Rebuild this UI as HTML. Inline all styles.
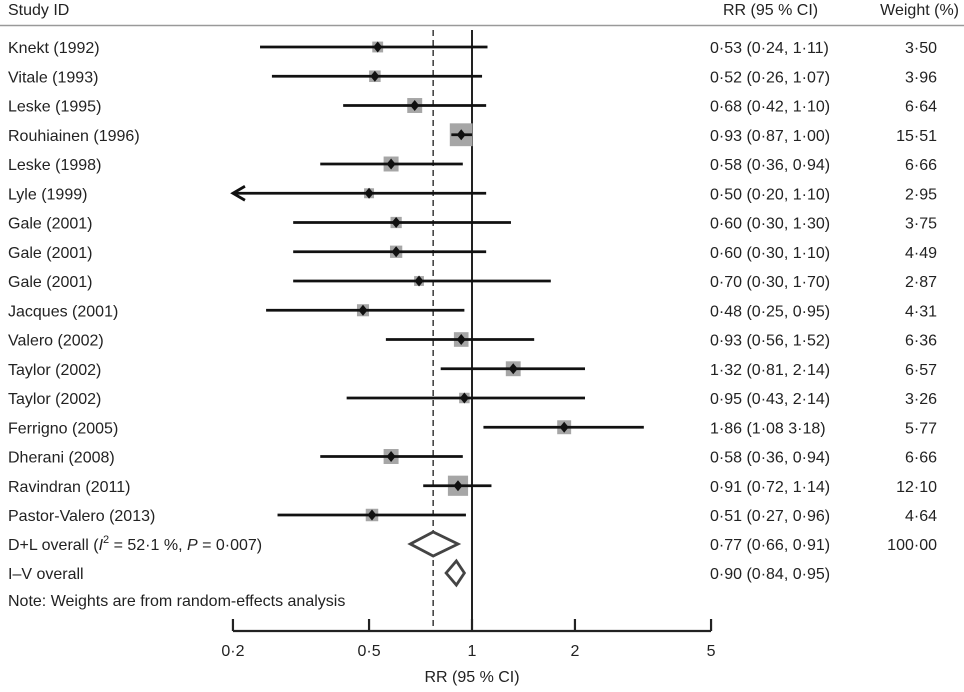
<!DOCTYPE html>
<html><head><meta charset="utf-8"><style>
body{margin:0;background:#fff;}
svg text{font-family:"Liberation Sans",sans-serif;font-size:16px;fill:#222;}
</style></head><body>
<svg id="plot" width="964" height="687" xmlns="http://www.w3.org/2000/svg">
<g id="g"></g>
</svg>
<script>
const studies=["Knekt (1992)","Vitale (1993)","Leske (1995)","Rouhiainen (1996)","Leske (1998)","Lyle (1999)","Gale (2001)","Gale (2001)","Gale (2001)","Jacques (2001)","Valero (2002)","Taylor (2002)","Taylor (2002)","Ferrigno (2005)","Dherani (2008)","Ravindran (2011)","Pastor-Valero (2013)"];
const rr=[0.53,0.52,0.68,0.93,0.58,0.50,0.60,0.60,0.70,0.48,0.93,1.32,0.95,1.86,0.58,0.91,0.51];
const lo=[0.24,0.26,0.42,0.87,0.36,0.20,0.30,0.30,0.30,0.25,0.56,0.81,0.43,1.08,0.36,0.72,0.27];
const hi=[1.11,1.07,1.10,1.00,0.94,1.10,1.30,1.10,1.70,0.95,1.52,2.14,2.14,3.18,0.94,1.14,0.96];
const weights=[3.50,3.96,6.64,15.51,6.66,2.95,3.75,4.49,2.87,4.31,6.36,6.57,3.26,5.77,6.66,12.10,4.64];
const ciLabels=["0·53 (0·24, 1·11)","0·52 (0·26, 1·07)","0·68 (0·42, 1·10)","0·93 (0·87, 1·00)","0·58 (0·36, 0·94)","0·50 (0·20, 1·10)","0·60 (0·30, 1·30)","0·60 (0·30, 1·10)","0·70 (0·30, 1·70)","0·48 (0·25, 0·95)","0·93 (0·56, 1·52)","1·32 (0·81, 2·14)","0·95 (0·43, 2·14)","1·86 (1·08 3·18)","0·58 (0·36, 0·94)","0·91 (0·72, 1·14)","0·51 (0·27, 0·96)"];
const pooled=[0.77,0.90], pooledLo=[0.66,0.84], pooledHi=[0.91,0.95];
const pooledCi=["0·77 (0·66, 0·91)","0·90 (0·84, 0·95)"];
const ticks=[0.2,0.5,1,2,5], tickLabels=["0·2","0·5","1","2","5"];

const X=v=>472+Math.log10(v)*342;
const Y=i=>47+i*29.25;
const g=document.getElementById('g');
const NS="http://www.w3.org/2000/svg";
function mk(tag,attrs,txt){const e=document.createElementNS(NS,tag);for(const k in attrs)e.setAttribute(k,attrs[k]);if(txt!=null)e.textContent=txt;g.appendChild(e);return e;}

let t,l;
t=mk('text',{x:8,y:15},"Study ID");


t=mk('text',{x:723,y:15},"RR (95 % CI)");


t=mk('text',{x:959,y:15,'text-anchor':'end'},"Weight (%)");


l=mk('line',{x1:0,y1:25.5,x2:964,y2:25.5,stroke:'#999','stroke-width':1.5});



l=mk('line',{x1:X(1),y1:30,x2:X(1),y2:631,stroke:'#222','stroke-width':2});


l=mk('line',{x1:X(pooled[0]),y1:30,x2:X(pooled[0]),y2:626,stroke:'#444','stroke-width':1.6,'stroke-dasharray':'6,4'});



for(let i=0;i<studies.length;i++){
  const y=Y(i);
  t=mk('text',{x:8,y:y+6},studies[i]);
  
  
  const s=5.8*Math.sqrt(weights[i]);
  const b=mk('rect',{x:X(rr[i])-s/2,y:y-s/2,width:s,height:s,fill:'#a6a6a6'});
  
  
  const x1=Math.max(X(lo[i]),X(0.2));
  const ci=mk('line',{x1:x1,y1:y,x2:X(hi[i]),y2:y,stroke:'#111','stroke-width':2.8});
  
  
  if(lo[i]<=0.2){
    const a=mk('polyline',{points:`${x1+12},${y-7} ${x1},${y} ${x1+12},${y+7}`,fill:'none',stroke:'#111','stroke-width':2.8});
    
    
  }
  const cx=X(rr[i]);
  const d=mk('polygon',{points:`${cx},${y-5.5} ${cx+4.5},${y} ${cx},${y+5.5} ${cx-4.5},${y}`,fill:'#111'});
  
  
  t=mk('text',{x:710,y:y+6},ciLabels[i]);
  
  
  t=mk('text',{x:937,y:y+6,'text-anchor':'end'},weights[i].toFixed(2).replace('.','·'));
  
  
}

const py=[544,573], ph=[12,12];
t=mk('text',{x:8,y:py[0]+6});
t.innerHTML='D+L overall (<tspan font-style="italic">I</tspan><tspan dy="-7" font-size="11">2</tspan><tspan dy="7"> = 52·1 %, </tspan><tspan font-style="italic">P</tspan> = 0·007)';


t=mk('text',{x:8,y:py[1]+6},"I–V overall");


for(let k=0;k<2;k++){
  const y=py[k];
  const p=mk('polygon',{points:`${X(pooledLo[k])},${y} ${X(pooled[k])},${y-ph[k]} ${X(pooledHi[k])},${y} ${X(pooled[k])},${y+ph[k]}`,fill:'#fff',stroke:'#444','stroke-width':2.8});
  
  
  t=mk('text',{x:710,y:y+6},pooledCi[k]);
  
  
}
t=mk('text',{x:937,y:py[0]+6,'text-anchor':'end'},"100·00");


t=mk('text',{x:8,y:606},"Note: Weights are from random-effects analysis");



l=mk('line',{x1:X(0.2),y1:631,x2:X(5),y2:631,stroke:'#222','stroke-width':2.2});


for(let k=0;k<ticks.length;k++){
  const x=X(ticks[k]);
  l=mk('line',{x1:x,y1:619,x2:x,y2:631,stroke:'#222','stroke-width':2.2});
  
  
  t=mk('text',{x:x,y:656,'text-anchor':'middle'},tickLabels[k]);
  
  
}
t=mk('text',{x:472,y:682,'text-anchor':'middle'},"RR (95 % CI)");


</script>
</body></html>
